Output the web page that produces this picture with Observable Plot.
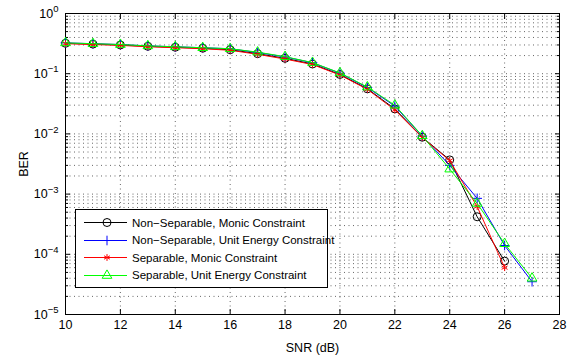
<!DOCTYPE html>
<html><head><meta charset="utf-8">
<script src="https://cdn.jsdelivr.net/npm/d3@7"></script>
<script src="https://cdn.jsdelivr.net/npm/@observablehq/plot@0.6"></script>
<style>
body{margin:0;background:#fff;}
#wrap{position:relative;width:584px;height:358px;font-family:"Liberation Sans",Arial,Helvetica,sans-serif;}
#legend{position:absolute;left:75px;top:209px;width:253px;height:79px;border:1px solid #000;background:#fff;box-sizing:border-box;padding-top:4px;font-size:11.5px;color:#000;}
.row{height:17.5px;display:flex;align-items:center;white-space:nowrap;}
.row svg{flex:none;}
</style>
</head><body>
<div id="wrap"><div id="chart"></div><div id="legend"></div></div>
<script>
// ---- data ----
const snr = [10,11,12,13,14,15,16,17,18,19,20,21,22,23,24,25,26,27];
const seriesNames = ["Non\u2212Separable, Monic Constraint","Non\u2212Separable, Unit Energy Constraint","Separable, Monic Constraint","Separable, Unit Energy Constraint"];
const nsMonic = [0.32,0.31,0.30,0.285,0.275,0.265,0.25,0.215,0.18,0.145,0.097,0.056,0.026,0.0088,0.0037,0.00042,0.000077];
const nsUnit  = [0.325,0.315,0.305,0.29,0.28,0.27,0.26,0.225,0.19,0.152,0.102,0.059,0.029,0.0092,0.0030,0.00085,0.00014,0.000035];
const sMonic  = [0.315,0.305,0.295,0.28,0.27,0.26,0.245,0.21,0.175,0.142,0.095,0.055,0.025,0.0087,0.0036,0.00062,0.00006];
const sUnit   = [0.325,0.315,0.305,0.29,0.28,0.27,0.26,0.228,0.192,0.153,0.103,0.06,0.03,0.0093,0.0026,0.0007,0.00015,0.00004];
const xTicks = [10,12,14,16,18,20,22,24,26,28];
const yMajor = [1,1e-1,1e-2,1e-3,1e-4,1e-5];
const yMinor = [];
for (let e = -5; e < 0; e++) for (let k = 2; k <= 9; k++) yMinor.push(k * Math.pow(10, e));

const colors = ["#000000","#0000ff","#ff0000","#00ff00"];
const symbols = ["circle","plus","asterisk","triangle"];
const radii = [4,3.2,3.2,3.6];
const allValues = [nsMonic, nsUnit, sMonic, sUnit];
const rows = allValues.map((vals, i) => vals.map((v, j) => ({snr: snr[j], ber: v, s: i})));

const grid = {stroke:"#000", strokeOpacity:0.6, strokeDasharray:"1,3.5", strokeWidth:1};
const font = '"Liberation Sans",Arial,Helvetica,sans-serif';
const tk = {text:null, label:null};

const marks = [
  Plot.gridX(xTicks.slice(1,-1), grid),
  Plot.gridY(yMajor.slice(1,-1), grid),
  Plot.gridY(yMinor, grid),
  // tick labels + axis titles
  Plot.axisX(xTicks, {anchor:"bottom", tickSize:0, tickPadding:6, label:"SNR (dB)", labelAnchor:"center", labelOffset:37, labelArrow:"none"}),
  Plot.axisY(yMajor, {anchor:"left", tickSize:0, tickPadding:7, tickFormat: d => "10^" + Math.round(Math.log10(d)), label:"BER", labelAnchor:"center", labelOffset:46, labelArrow:"none"}),
  // inward ticks
  Plot.axisX(xTicks, {anchor:"bottom", tickSize:5, dy:-5, ...tk}),
  Plot.axisX(xTicks, {anchor:"top", tickSize:5, dy:5, ...tk}),
  Plot.axisY(yMajor, {anchor:"left", tickSize:5, dx:5, ...tk}),
  Plot.axisY(yMajor, {anchor:"right", tickSize:5, dx:-5, ...tk}),
  Plot.axisY(yMinor, {anchor:"left", tickSize:3, dx:3, ...tk}),
  Plot.axisY(yMinor, {anchor:"right", tickSize:3, dx:-3, ...tk}),
  Plot.frame({stroke:"#000", strokeWidth:1})
];
rows.forEach((d, i) => {
  marks.push(Plot.line(d, {x:"snr", y:"ber", stroke:colors[i], strokeWidth:1}));
  marks.push(Plot.dot(d, {x:"snr", y:"ber", symbol:symbols[i], stroke:colors[i], fill:"none", r:radii[i], strokeWidth:1}));
});

const chart = Plot.plot({
  width:584, height:358,
  marginLeft:65, marginRight:25, marginTop:13, marginBottom:44,
  style:{fontFamily:font, fontSize:"12.5px", background:"#fff", color:"#000", overflow:"visible"},
  x:{domain:[10,28], label:null},
  y:{type:"log", domain:[1e-5,1], label:null},
  marks
});
document.getElementById("chart").appendChild(chart);

// superscript exponents on y tick labels
d3.select(chart).selectAll('g[aria-label="y-axis tick label"] text').each(function(){
  const t = this.textContent;
  if (!t.startsWith("10^")) return;
  const e = t.slice(3).replace("-", "\u2212");
  this.textContent = "10";
  d3.select(this).append("tspan").attr("dy","-0.55em").attr("font-size","9.5px").text(e);
});

// legend
const leg = d3.select("#legend");
seriesNames.forEach((name, i) => {
  const row = leg.append("div").attr("class","row");
  const svg = row.append("svg").attr("width",56).attr("height",17);
  svg.append("line").attr("x1",8).attr("x2",51).attr("y1",8.5).attr("y2",8.5).attr("stroke",colors[i]).attr("stroke-width",1);
  const sym = {circle:d3.symbolCircle, plus:d3.symbolPlus, asterisk:d3.symbolAsterisk, triangle:d3.symbolTriangle}[symbols[i]];
  svg.append("path").attr("transform","translate(31,8.5)").attr("d", d3.symbol(sym, Math.PI*radii[i]*radii[i])()).attr("fill","none").attr("stroke",colors[i]).attr("stroke-width",1);
  row.append("span").text(name);
});
</script>
</body></html>
